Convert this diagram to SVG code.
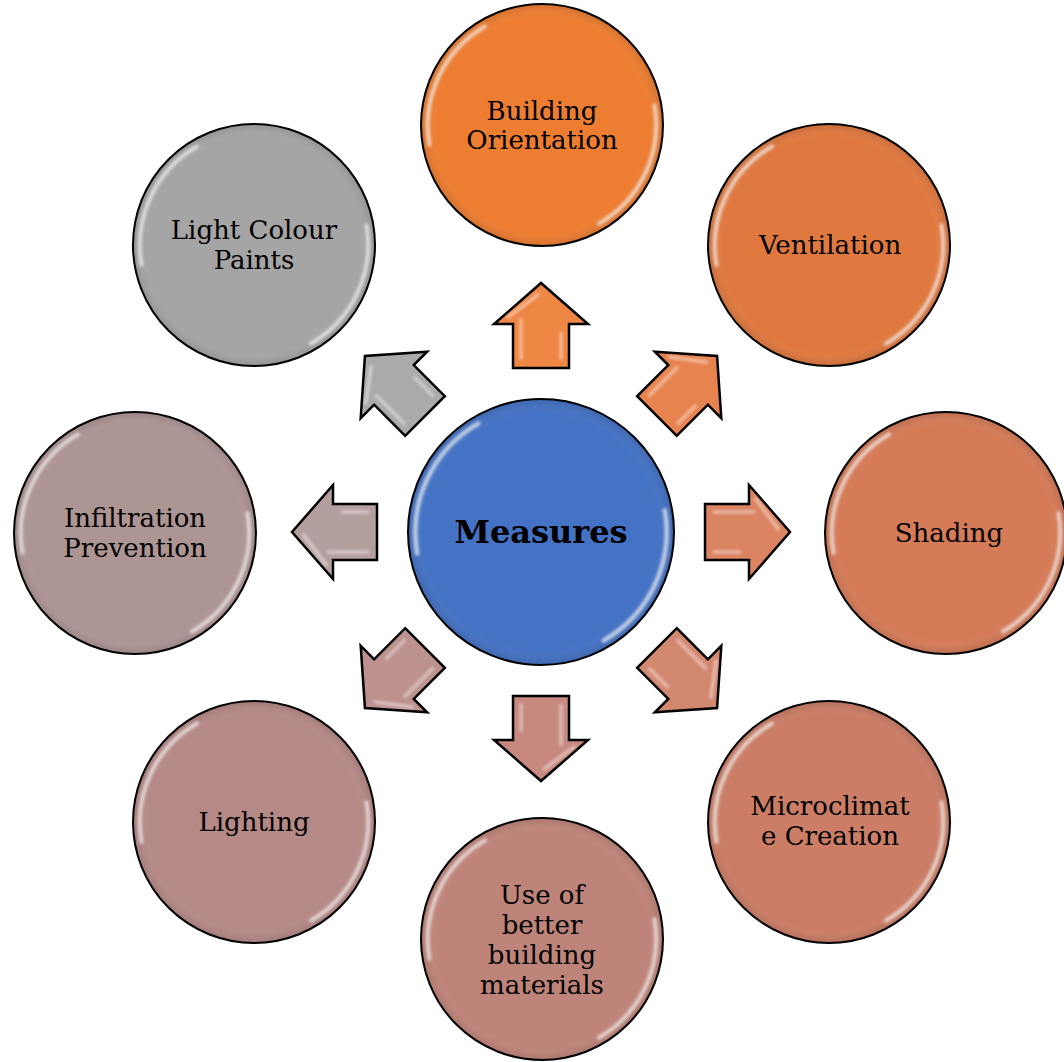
<svg xmlns="http://www.w3.org/2000/svg" xmlns:xlink="http://www.w3.org/1999/xlink" width="1064" height="1062" viewBox="0 0 1064 1062">
<style>
.c{stroke:#000;stroke-width:2}
.a{stroke:#000;stroke-width:2.5;stroke-linejoin:miter}
.t{font-family:"DejaVu Serif","Liberation Serif",serif;font-size:26px;fill:#000;text-anchor:middle}
.m{font-family:"DejaVu Serif","Liberation Serif",serif;font-size:32px;font-weight:bold;fill:#000;text-anchor:middle}
.g{fill:none;stroke:#fff;stroke-width:4;stroke-linecap:round;opacity:0.7;filter:url(#blur)}
.ah{fill:none;stroke:#fff;stroke-width:3;opacity:0.5;filter:url(#blur)}
</style>
<defs>
<filter id="blur" x="-20%" y="-20%" width="140%" height="140%"><feGaussianBlur stdDeviation="1.5"/></filter>
<radialGradient id="shade" cx="50%" cy="50%" r="50%">
<stop offset="0.88" stop-color="#fff" stop-opacity="0"/>
<stop offset="1" stop-color="#000" stop-opacity="0.12"/>
</radialGradient>
<g id="gloss">
<path class="g" d="M-112.6,19.9 A114,114 0 0 1 -57,-98.7"/>
<path class="g" d="M112.6,-19.9 A114,114 0 0 1 57,98.7"/>
<circle r="121" fill="url(#shade)"/>
</g>
<path id="arrow" d="M164,-28 L208,-28 L208,-47 L249,0 L208,47 L208,28 L164,28 Z"/>
<path id="arrowhl" d="M172,-20 L214,-20 M214,-34 L238,-2 M172,20 L200,20"/>
</defs>

<g id="connectors">
<g transform="translate(541,532) rotate(-90)"><use xlink:href="#arrow" class="a" fill="#EE8644"/><use xlink:href="#arrowhl" class="ah"/></g>
<g transform="translate(541,532) rotate(-45)"><use xlink:href="#arrow" class="a" fill="#E6834F"/><use xlink:href="#arrowhl" class="ah"/></g>
<g transform="translate(541,532) rotate(0)"><use xlink:href="#arrow" class="a" fill="#DB8462"/><use xlink:href="#arrowhl" class="ah"/></g>
<g transform="translate(541,532) rotate(45)"><use xlink:href="#arrow" class="a" fill="#D2876F"/><use xlink:href="#arrowhl" class="ah"/></g>
<g transform="translate(541,532) rotate(90)"><use xlink:href="#arrow" class="a" fill="#C7897F"/><use xlink:href="#arrowhl" class="ah"/></g>
<g transform="translate(541,532) rotate(135)"><use xlink:href="#arrow" class="a" fill="#BC918E"/><use xlink:href="#arrowhl" class="ah"/></g>
<g transform="translate(541,532) rotate(180)"><use xlink:href="#arrow" class="a" fill="#B49F9F"/><use xlink:href="#arrowhl" class="ah"/></g>
<g transform="translate(541,532) rotate(-135)"><use xlink:href="#arrow" class="a" fill="#AAAAAA"/><use xlink:href="#arrowhl" class="ah"/></g>
</g>

<g id="center" transform="translate(541,532)">
<circle r="133" class="c" fill="#4472C4"/>
<use xlink:href="#gloss" transform="scale(1.1)"/>
<text class="m" x="0" y="11">Measures</text>
</g>

<g id="orientation" transform="translate(542,125)">
<circle r="121" class="c" fill="#ED7D31"/>
<use xlink:href="#gloss"/>
<text class="t" x="0" y="-5">Building</text>
<text class="t" x="0" y="24">Orientation</text>
</g>

<g id="ventilation" transform="translate(829,245)">
<circle r="121" class="c" fill="#E07940"/>
<use xlink:href="#gloss"/>
<text class="t" x="1" y="9">Ventilation</text>
</g>

<g id="shading" transform="translate(946,533)">
<circle r="121" class="c" fill="#D57B58"/>
<use xlink:href="#gloss"/>
<text class="t" x="3" y="9">Shading</text>
</g>

<g id="microclimate" transform="translate(829,822)">
<circle r="121" class="c" fill="#CB7D66"/>
<use xlink:href="#gloss"/>
<text class="t" x="1" y="-7">Microclimat</text>
<text class="t" x="1" y="23">e Creation</text>
</g>

<g id="materials" transform="translate(542,939)">
<circle r="121" class="c" fill="#BF8479"/>
<use xlink:href="#gloss"/>
<text class="t" x="0" y="-35">Use of</text>
<text class="t" x="0" y="-5">better</text>
<text class="t" x="0" y="25">building</text>
<text class="t" x="0" y="55">materials</text>
</g>

<g id="lighting" transform="translate(254,822)">
<circle r="121" class="c" fill="#B58986"/>
<use xlink:href="#gloss"/>
<text class="t" x="0" y="9">Lighting</text>
</g>

<g id="infiltration" transform="translate(135,533)">
<circle r="121" class="c" fill="#AD9594"/>
<use xlink:href="#gloss"/>
<text class="t" x="0" y="-6">Infiltration</text>
<text class="t" x="0" y="24">Prevention</text>
</g>

<g id="paints" transform="translate(254,245)">
<circle r="121" class="c" fill="#A5A5A5"/>
<use xlink:href="#gloss"/>
<text class="t" x="0" y="-6">Light Colour</text>
<text class="t" x="0" y="24">Paints</text>
</g>
</svg>
